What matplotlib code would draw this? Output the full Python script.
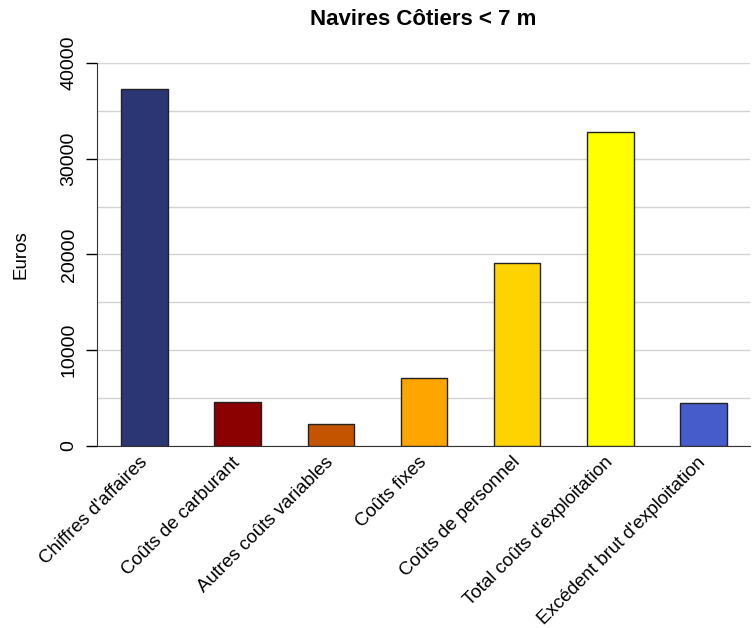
import matplotlib
matplotlib.use("Agg")
import matplotlib.pyplot as plt

plt.rcParams['font.family'] = ['Liberation Sans', 'DejaVu Sans']

categories = ["Chiffres d'affaires", "Coûts de carburant", "Autres coûts variables",
              "Coûts fixes", "Coûts de personnel", "Total coûts d'exploitation",
              "Excédent brut d'exploitation"]
values = [37300, 4600, 2300, 7100, 19100, 32800, 4500]
colors = ['#2b3674', '#8b0000', '#c55400', '#ffa500', '#ffd300', '#ffff00', '#465ccb']
major_ticks = [0, 10000, 20000, 30000, 40000]
minor_ticks = [5000, 15000, 25000, 35000]

fig = plt.figure(figsize=(7.53, 6.28), dpi=100)
ax = fig.add_axes([0.1288, 0.2898, 0.8672, 0.6099])

x = range(len(categories))
ax.bar(x, values, width=0.5, color=colors, edgecolor='#222222', linewidth=1, zorder=3)

ax.set_xlim(-0.51, 6.5)
ax.set_ylim(0, 40000)
ax.set_yticks(major_ticks)
ax.set_yticks(minor_ticks, minor=True)
ax.set_yticklabels([str(t) for t in major_ticks], rotation=90, va='center', fontsize=14)
ax.tick_params(axis='y', which='major', length=8, width=1, pad=6)
ax.tick_params(axis='y', which='minor', length=0)
ax.grid(axis='y', which='both', color='#d3d3d3', linewidth=1, zorder=0)

ax.set_xticks(list(x))
ax.set_xticklabels(categories, rotation=45, ha='right', va='center',
                   rotation_mode='anchor', fontsize=13.5)
ax.tick_params(axis='x', length=0, pad=10)

for s in ['top', 'right']:
    ax.spines[s].set_visible(False)
ax.spines['left'].set_color('#333333')
ax.spines['bottom'].set_color('#333333')

ax.set_ylabel('Euros', fontsize=13.5, labelpad=22)
ax.set_title('Navires Côtiers < 7 m', fontsize=16, fontweight='bold', pad=27)

fig.savefig('out.png', dpi=100)
